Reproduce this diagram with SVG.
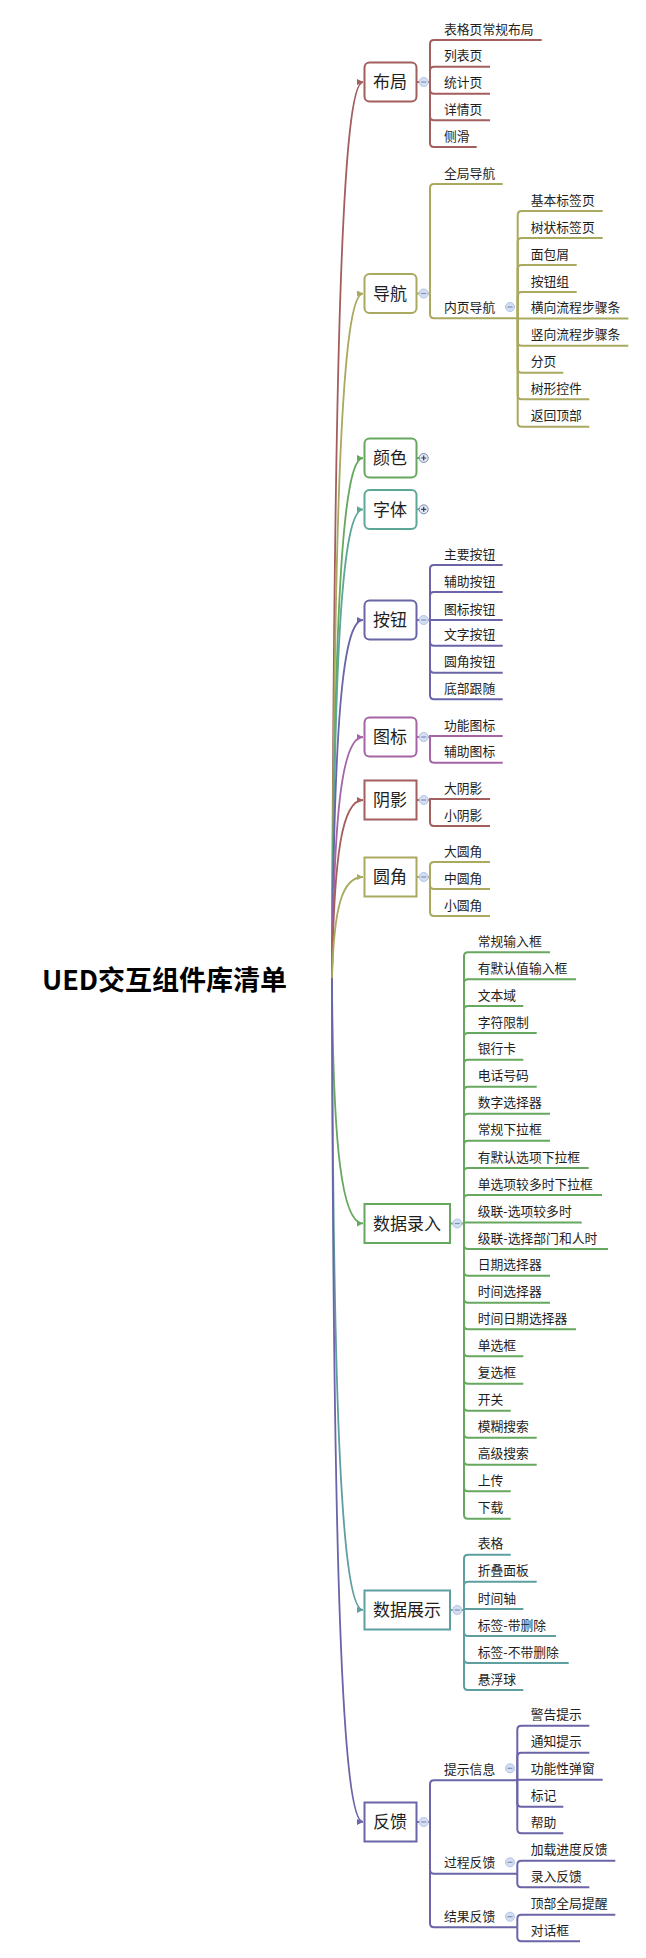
<svg xmlns="http://www.w3.org/2000/svg" width="646" height="1958" viewBox="0 0 646 1958">
<style>
text{font-family:"Noto Sans CJK SC","Noto Sans",sans-serif;fill:#1e1e1e}
.title{font-size:27px;font-weight:bold;fill:#000}
.n1{font-size:17px}
.n2{font-size:12.8px}
.box{fill:#fff;stroke-width:2}
.ln{fill:none;stroke-width:2}
.cv{fill:none;stroke-width:1.8}
.cR{stroke:#a35e5e}.cO{stroke:#a9a95f}.cG{stroke:#67a85f}.cT{stroke:#5ca796}.cB{stroke:#6a64a8}.cP{stroke:#a464a6}.cT2{stroke:#5e9f9f}
.tog{fill:#d3def3;stroke:#b3c3e3;stroke-width:1}
.togp{fill:#e2e8f4;stroke:#7d8db0;stroke-width:1}
.sg{stroke:#8090b8;stroke-width:1.2;fill:none}
.sgp{stroke:#34405c;stroke-width:1.2;fill:none}
</style>
<defs>
<marker id="aR" markerUnits="userSpaceOnUse" markerWidth="7" markerHeight="7" refX="6" refY="3" orient="auto"><path d="M0,0 L6,3 L0,6 z" fill="#a35e5e"/></marker>
<marker id="aO" markerUnits="userSpaceOnUse" markerWidth="7" markerHeight="7" refX="6" refY="3" orient="auto"><path d="M0,0 L6,3 L0,6 z" fill="#a9a95f"/></marker>
<marker id="aG" markerUnits="userSpaceOnUse" markerWidth="7" markerHeight="7" refX="6" refY="3" orient="auto"><path d="M0,0 L6,3 L0,6 z" fill="#67a85f"/></marker>
<marker id="aT" markerUnits="userSpaceOnUse" markerWidth="7" markerHeight="7" refX="6" refY="3" orient="auto"><path d="M0,0 L6,3 L0,6 z" fill="#5ca796"/></marker>
<marker id="aB" markerUnits="userSpaceOnUse" markerWidth="7" markerHeight="7" refX="6" refY="3" orient="auto"><path d="M0,0 L6,3 L0,6 z" fill="#6a64a8"/></marker>
<marker id="aP" markerUnits="userSpaceOnUse" markerWidth="7" markerHeight="7" refX="6" refY="3" orient="auto"><path d="M0,0 L6,3 L0,6 z" fill="#a464a6"/></marker>
<marker id="aT2" markerUnits="userSpaceOnUse" markerWidth="7" markerHeight="7" refX="6" refY="3" orient="auto"><path d="M0,0 L6,3 L0,6 z" fill="#5e9f9f"/></marker>
</defs>
<rect width="646" height="1958" fill="#fff"/>

<g id="connectors">
<!-- root curves -->
<path class="cv cR" marker-end="url(#aR)" d="M332,978 C334,350.8 342,82 363,82"/>
<path class="cv cO" marker-end="url(#aO)" d="M332,978 C334,498.9 342,293.5 363,293.5"/>
<path class="cv cG" marker-end="url(#aG)" d="M332,978 C334,614 342,458 363,458"/>
<path class="cv cT" marker-end="url(#aT)" d="M332,978 C334,649.9 342,509.3 363,509.3"/>
<path class="cv cB" marker-end="url(#aB)" d="M332,978 C334,727.4 342,620 363,620"/>
<path class="cv cP" marker-end="url(#aP)" d="M332,978 C334,809.3 342,737 363,737"/>
<path class="cv cR" marker-end="url(#aR)" d="M332,978 C334,853.4 342,800 363,800"/>
<path class="cv cO" marker-end="url(#aO)" d="M332,978 C334,907.3 342,877 363,877"/>
<path class="cv cG" marker-end="url(#aG)" d="M332,978 C333,1149.9 342,1223.5 363,1223.5"/>
<path class="cv cT2" marker-end="url(#aT2)" d="M332,978 C333,1420.4 342,1610 363,1610"/>
<path class="cv cB" marker-end="url(#aB)" d="M332,978 C333,1568.8 342,1822 363,1822"/>

<!-- 布局 -->
<g class="ln cR">
<path d="M416.5,82 H430"/>
<path d="M430,82 V44 Q430,40 434,40 H541.7"/>
<path d="M430,82 V70.7 Q430,66.7 434,66.7 H490"/>
<path d="M430,82 V89.7 Q430,93.7 434,93.7 H490"/>
<path d="M430,82 V116.3 Q430,120.3 434,120.3 H490"/>
<path d="M430,82 V143 Q430,147 434,147 H476.7"/>
</g>
<!-- 导航 -->
<g class="ln cO">
<path d="M416.5,293.5 H430"/>
<path d="M430,293.5 V188 Q430,184 434,184 H502.7"/>
<path d="M430,293.5 V314.3 Q430,318.3 434,318.3 H517.7"/>
<path d="M517.7,318.3 V215 Q517.7,211 521.7,211 H602.7"/>
<path d="M517.7,318.3 V242 Q517.7,238 521.7,238 H602.7"/>
<path d="M517.7,318.3 V269 Q517.7,265 521.7,265 H576.7"/>
<path d="M517.7,318.3 V296 Q517.7,292 521.7,292 H576.7"/>
<path d="M517.7,318.5 H628.3"/>
<path d="M517.7,318.3 V341.7 Q517.7,345.7 521.7,345.7 H628.3"/>
<path d="M517.7,318.3 V368.7 Q517.7,372.7 521.7,372.7 H563.3"/>
<path d="M517.7,318.3 V395.3 Q517.7,399.3 521.7,399.3 H589.3"/>
<path d="M517.7,318.3 V422.7 Q517.7,426.7 521.7,426.7 H589.3"/>
</g>
<!-- 颜色 / 字体 -->
<path class="ln cG" d="M416.5,458 H419.5"/>
<path class="ln cT" d="M416.5,509.3 H419.5"/>
<!-- 按钮 -->
<g class="ln cB">
<path d="M416.5,620 H430"/>
<path d="M430,620 V569 Q430,565 434,565 H502.7"/>
<path d="M430,620 V596 Q430,592 434,592 H502.7"/>
<path d="M430,620 H502.7"/>
<path d="M430,620 V641.7 Q430,645.7 434,645.7 H502.7"/>
<path d="M430,620 V668.7 Q430,672.7 434,672.7 H502.7"/>
<path d="M430,620 V695.3 Q430,699.3 434,699.3 H502.7"/>
</g>
<!-- 图标 -->
<g class="ln cP">
<path d="M416.5,737 H430"/>
<path d="M430,737 V736 H502.7"/>
<path d="M430,737 V758.7 Q430,762.7 434,762.7 H502.7"/>
</g>
<!-- 阴影 -->
<g class="ln cR">
<path d="M416.5,800 H430"/>
<path d="M430,800 V799 H490"/>
<path d="M430,800 V822 Q430,826 434,826 H490"/>
</g>
<!-- 圆角 -->
<g class="ln cO">
<path d="M416.5,877 H430"/>
<path d="M430,877 V866 Q430,862 434,862 H490"/>
<path d="M430,877 V885 Q430,889 434,889 H490"/>
<path d="M430,877 V912 Q430,916 434,916 H490"/>
</g>
<!-- 数据录入 -->
<g class="ln cG">
<path d="M450,1223.5 H464"/>
<path d="M464,1223.5 V956.3 Q464,952.3 468,952.3 H550"/>
<path d="M464,1223.5 V983.3 Q464,979.3 468,979.3 H576"/>
<path d="M464,1223.5 V1010 Q464,1006 468,1006 H523.3"/>
<path d="M464,1223.5 V1037 Q464,1033 468,1033 H536.7"/>
<path d="M464,1223.5 V1063.7 Q464,1059.7 468,1059.7 H523.3"/>
<path d="M464,1223.5 V1090.7 Q464,1086.7 468,1086.7 H536.7"/>
<path d="M464,1223.5 V1117.7 Q464,1113.7 468,1113.7 H550"/>
<path d="M464,1223.5 V1144.7 Q464,1140.7 468,1140.7 H550"/>
<path d="M464,1223.5 V1172 Q464,1168 468,1168 H588.7"/>
<path d="M464,1223.5 V1199 Q464,1195 468,1195 H602"/>
<path d="M464,1223.5 V1222.5 H581.7"/>
<path d="M464,1223.5 V1245 Q464,1249 468,1249 H608"/>
<path d="M464,1223.5 V1271.7 Q464,1275.7 468,1275.7 H550"/>
<path d="M464,1223.5 V1298.7 Q464,1302.7 468,1302.7 H550"/>
<path d="M464,1223.5 V1325.3 Q464,1329.3 468,1329.3 H576"/>
<path d="M464,1223.5 V1352.3 Q464,1356.3 468,1356.3 H523.3"/>
<path d="M464,1223.5 V1379.7 Q464,1383.7 468,1383.7 H523.3"/>
<path d="M464,1223.5 V1406.7 Q464,1410.7 468,1410.7 H510.7"/>
<path d="M464,1223.5 V1433.7 Q464,1437.7 468,1437.7 H536.7"/>
<path d="M464,1223.5 V1460.7 Q464,1464.7 468,1464.7 H536.7"/>
<path d="M464,1223.5 V1487.3 Q464,1491.3 468,1491.3 H510.7"/>
<path d="M464,1223.5 V1514.7 Q464,1518.7 468,1518.7 H510.7"/>
</g>
<!-- 数据展示 -->
<g class="ln cT2">
<path d="M450,1610 H464"/>
<path d="M464,1610 V1558.7 Q464,1554.7 468,1554.7 H510.7"/>
<path d="M464,1610 V1585.7 Q464,1581.7 468,1581.7 H536.7"/>
<path d="M464,1610 V1609 H523.3"/>
<path d="M464,1610 V1632 Q464,1636 468,1636 H556"/>
<path d="M464,1610 V1659 Q464,1663 468,1663 H568.7"/>
<path d="M464,1610 V1686 Q464,1690 468,1690 H523.3"/>
</g>
<!-- 反馈 -->
<g class="ln cB">
<path d="M416.5,1822 H430"/>
<path d="M430,1822 V1784.3 Q430,1780.3 434,1780.3 H517.3"/>
<path d="M430,1822 V1869.7 Q430,1873.7 434,1873.7 H517.3"/>
<path d="M430,1822 V1923.3 Q430,1927.3 434,1927.3 H517.3"/>
<path d="M517.3,1780.3 V1729.7 Q517.3,1725.7 521.3,1725.7 H589.3"/>
<path d="M517.3,1780.3 V1756.7 Q517.3,1752.7 521.3,1752.7 H589.3"/>
<path d="M517.3,1780.3 V1779.7 H602.7"/>
<path d="M517.3,1780.3 V1802.7 Q517.3,1806.7 521.3,1806.7 H563.3"/>
<path d="M517.3,1780.3 V1829.3 Q517.3,1833.3 521.3,1833.3 H563.3"/>
<path d="M517.3,1873.7 V1864.7 Q517.3,1860.7 521.3,1860.7 H615.3"/>
<path d="M517.3,1873.7 V1883.3 Q517.3,1887.3 521.3,1887.3 H589.3"/>
<path d="M517.3,1927.3 V1918.7 Q517.3,1914.7 521.3,1914.7 H615.3"/>
<path d="M517.3,1927.3 V1937.3 Q517.3,1941.3 521.3,1941.3 H580"/>
</g>
</g>

<g id="root"><text class="title" x="42" y="990">UED交互组件库清单</text></g>

<g id="n-buju">
<rect class="box cR" x="364.5" y="62.5" width="52" height="39" rx="5"/>
<text class="n1" x="373" y="88">布局</text>
<circle class="tog" cx="423.7" cy="82" r="4.5"/><path class="sg" d="M421.2,82 H426.2"/>
<text class="n2" x="444" y="33.5">表格页常规布局</text>
<text class="n2" x="444" y="60.2">列表页</text>
<text class="n2" x="444" y="87.2">统计页</text>
<text class="n2" x="444" y="113.8">详情页</text>
<text class="n2" x="444" y="140.5">侧滑</text>
</g>

<g id="n-daohang">
<rect class="box cO" x="364.5" y="274" width="52" height="39" rx="5"/>
<text class="n1" x="373" y="299.5">导航</text>
<circle class="tog" cx="423.7" cy="293.5" r="4.5"/><path class="sg" d="M421.2,293.5 H426.2"/>
<text class="n2" x="444" y="177.5">全局导航</text>
<text class="n2" x="444" y="311.8">内页导航</text>
<circle class="tog" cx="510" cy="307" r="4.5"/><path class="sg" d="M507.5,307 H512.5"/>
<text class="n2" x="530.7" y="204.5">基本标签页</text>
<text class="n2" x="530.7" y="231.5">树状标签页</text>
<text class="n2" x="530.7" y="258.5">面包屑</text>
<text class="n2" x="530.7" y="285.5">按钮组</text>
<text class="n2" x="530.7" y="312">横向流程步骤条</text>
<text class="n2" x="530.7" y="339.2">竖向流程步骤条</text>
<text class="n2" x="530.7" y="366.2">分页</text>
<text class="n2" x="530.7" y="392.8">树形控件</text>
<text class="n2" x="530.7" y="420.2">返回顶部</text>
</g>

<g id="n-yanse">
<rect class="box cG" x="364.5" y="438.5" width="52" height="39" rx="5"/>
<text class="n1" x="373" y="464">颜色</text>
<circle class="togp" cx="423.7" cy="458" r="4.5"/><path class="sgp" d="M421.2,458 H426.2 M423.7,455.5 V460.5"/>
</g>

<g id="n-ziti">
<rect class="box cT" x="364.5" y="490" width="52" height="39" rx="5"/>
<text class="n1" x="373" y="515.5">字体</text>
<circle class="togp" cx="423.7" cy="509.3" r="4.5"/><path class="sgp" d="M421.2,509.3 H426.2 M423.7,506.8 V511.8"/>
</g>

<g id="n-anniu">
<rect class="box cB" x="364.5" y="600.5" width="52" height="39" rx="5"/>
<text class="n1" x="373" y="626">按钮</text>
<circle class="tog" cx="423.7" cy="620" r="4.5"/><path class="sg" d="M421.2,620 H426.2"/>
<text class="n2" x="444" y="558.5">主要按钮</text>
<text class="n2" x="444" y="585.5">辅助按钮</text>
<text class="n2" x="444" y="613.5">图标按钮</text>
<text class="n2" x="444" y="639.2">文字按钮</text>
<text class="n2" x="444" y="666.2">圆角按钮</text>
<text class="n2" x="444" y="692.8">底部跟随</text>
</g>

<g id="n-tubiao">
<rect class="box cP" x="364.5" y="717.5" width="52" height="39" rx="5"/>
<text class="n1" x="373" y="743">图标</text>
<circle class="tog" cx="423.7" cy="737" r="4.5"/><path class="sg" d="M421.2,737 H426.2"/>
<text class="n2" x="444" y="729.5">功能图标</text>
<text class="n2" x="444" y="756.2">辅助图标</text>
</g>

<g id="n-yinying">
<rect class="box cR" x="364.5" y="780.5" width="52" height="39"/>
<text class="n1" x="373" y="806">阴影</text>
<circle class="tog" cx="423.7" cy="800" r="4.5"/><path class="sg" d="M421.2,800 H426.2"/>
<text class="n2" x="444" y="792.5">大阴影</text>
<text class="n2" x="444" y="819.5">小阴影</text>
</g>

<g id="n-yuanjiao">
<rect class="box cO" x="364.5" y="857.5" width="52" height="39"/>
<text class="n1" x="373" y="883">圆角</text>
<circle class="tog" cx="423.7" cy="877" r="4.5"/><path class="sg" d="M421.2,877 H426.2"/>
<text class="n2" x="444" y="855.5">大圆角</text>
<text class="n2" x="444" y="882.5">中圆角</text>
<text class="n2" x="444" y="909.5">小圆角</text>
</g>

<g id="n-shujuluru">
<rect class="box cG" x="364.5" y="1204" width="85.5" height="39"/>
<text class="n1" x="373" y="1229.5">数据录入</text>
<circle class="tog" cx="457.3" cy="1223.5" r="4.5"/><path class="sg" d="M454.8,1223.5 H459.8"/>
<text class="n2" x="477.7" y="945.8">常规输入框</text>
<text class="n2" x="477.7" y="972.8">有默认值输入框</text>
<text class="n2" x="477.7" y="999.5">文本域</text>
<text class="n2" x="477.7" y="1026.5">字符限制</text>
<text class="n2" x="477.7" y="1053.2">银行卡</text>
<text class="n2" x="477.7" y="1080.2">电话号码</text>
<text class="n2" x="477.7" y="1107.2">数字选择器</text>
<text class="n2" x="477.7" y="1134.2">常规下拉框</text>
<text class="n2" x="477.7" y="1161.5">有默认选项下拉框</text>
<text class="n2" x="477.7" y="1188.5">单选项较多时下拉框</text>
<text class="n2" x="477.7" y="1215.5">级联-选项较多时</text>
<text class="n2" x="477.7" y="1242.5">级联-选择部门和人时</text>
<text class="n2" x="477.7" y="1269.2">日期选择器</text>
<text class="n2" x="477.7" y="1296.2">时间选择器</text>
<text class="n2" x="477.7" y="1322.8">时间日期选择器</text>
<text class="n2" x="477.7" y="1349.8">单选框</text>
<text class="n2" x="477.7" y="1377.2">复选框</text>
<text class="n2" x="477.7" y="1404.2">开关</text>
<text class="n2" x="477.7" y="1431.2">模糊搜索</text>
<text class="n2" x="477.7" y="1458.2">高级搜索</text>
<text class="n2" x="477.7" y="1484.8">上传</text>
<text class="n2" x="477.7" y="1512.2">下载</text>
</g>

<g id="n-shujuzhanshi">
<rect class="box cT2" x="364.5" y="1590.5" width="85.5" height="39"/>
<text class="n1" x="373" y="1616">数据展示</text>
<circle class="tog" cx="457.3" cy="1610" r="4.5"/><path class="sg" d="M454.8,1610 H459.8"/>
<text class="n2" x="477.7" y="1548.2">表格</text>
<text class="n2" x="477.7" y="1575.2">折叠面板</text>
<text class="n2" x="477.7" y="1602.5">时间轴</text>
<text class="n2" x="477.7" y="1629.5">标签-带删除</text>
<text class="n2" x="477.7" y="1656.5">标签-不带删除</text>
<text class="n2" x="477.7" y="1683.5">悬浮球</text>
</g>

<g id="n-fankui">
<rect class="box cB" x="364.5" y="1802.5" width="52" height="39"/>
<text class="n1" x="373" y="1828">反馈</text>
<circle class="tog" cx="423.7" cy="1822" r="4.5"/><path class="sg" d="M421.2,1822 H426.2"/>
<text class="n2" x="444" y="1773.8">提示信息</text>
<circle class="tog" cx="510" cy="1768.3" r="4.5"/><path class="sg" d="M507.5,1768.3 H512.5"/>
<text class="n2" x="444" y="1867.2">过程反馈</text>
<circle class="tog" cx="510" cy="1862.3" r="4.5"/><path class="sg" d="M507.5,1862.3 H512.5"/>
<text class="n2" x="444" y="1920.8">结果反馈</text>
<circle class="tog" cx="510" cy="1916.7" r="4.5"/><path class="sg" d="M507.5,1916.7 H512.5"/>
<text class="n2" x="530.7" y="1719.2">警告提示</text>
<text class="n2" x="530.7" y="1746.2">通知提示</text>
<text class="n2" x="530.7" y="1773.2">功能性弹窗</text>
<text class="n2" x="530.7" y="1800.2">标记</text>
<text class="n2" x="530.7" y="1826.8">帮助</text>
<text class="n2" x="530.7" y="1854.2">加载进度反馈</text>
<text class="n2" x="530.7" y="1880.8">录入反馈</text>
<text class="n2" x="530.7" y="1908.2">顶部全局提醒</text>
<text class="n2" x="530.7" y="1934.8">对话框</text>
</g>
</svg>
